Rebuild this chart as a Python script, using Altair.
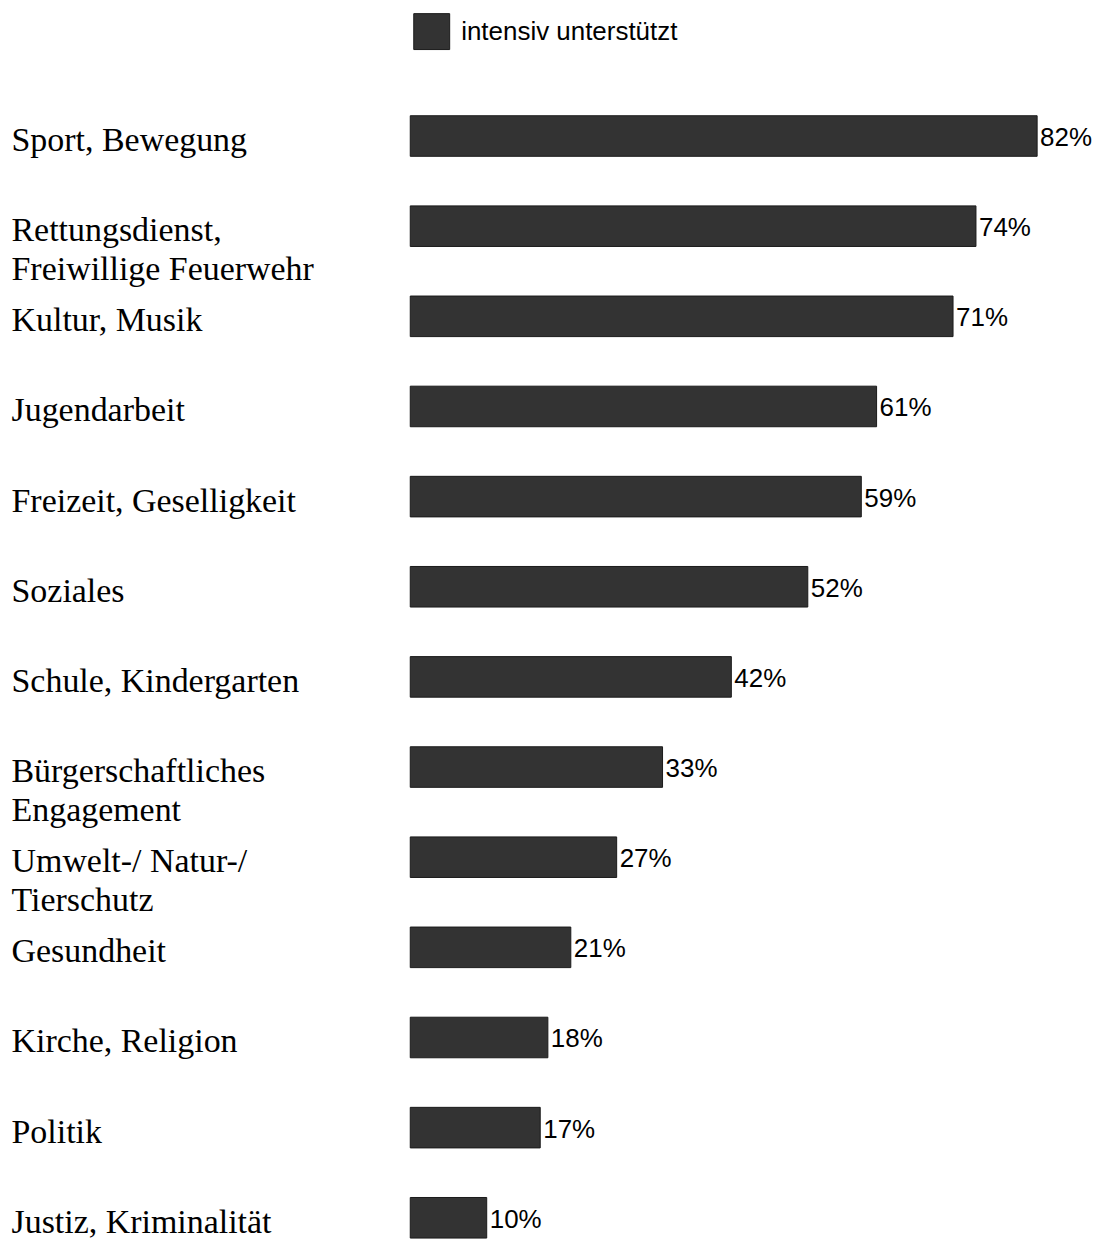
import altair as alt
import pandas as pd

categories = [
    "Sport, Bewegung",
    "Rettungsdienst,\nFreiwillige Feuerwehr",
    "Kultur, Musik",
    "Jugendarbeit",
    "Freizeit, Geselligkeit",
    "Soziales",
    "Schule, Kindergarten",
    "Bürgerschaftliches\nEngagement",
    "Umwelt-/ Natur-/\nTierschutz",
    "Gesundheit",
    "Kirche, Religion",
    "Politik",
    "Justiz, Kriminalität",
]
values = [82, 74, 71, 61, 59, 52, 42, 33, 27, 21, 18, 17, 10]
series_name = "intensiv unterstützt"

df = pd.DataFrame({"Kategorie": categories, "Wert": values, "Serie": series_name})

y_enc = alt.Y(
    "Kategorie:N",
    sort=categories,
    scale=alt.Scale(paddingInner=0.55, paddingOuter=0.02),
    axis=alt.Axis(
        title=None,
        domain=False,
        ticks=False,
        labelAlign="left",
        labelBaseline="middle",
        labelPadding=400,
        labelOffset=5,
        labelFont="Liberation Serif",
        labelFontSize=34,
        labelColor="black",
        labelLineHeight=39,
        labelLimit=0,
        labelExpr="split(datum.label, '\\n')",
    ),
)

x_enc = alt.X(
    "Wert:Q",
    scale=alt.Scale(domain=[0, 85], nice=False),
    axis=None,
)

bars = alt.Chart(df).mark_bar(stroke="#1a1a1a", strokeWidth=1).encode(
    x=x_enc,
    y=y_enc,
    color=alt.Color(
        "Serie:N",
        scale=alt.Scale(range=["#333333"]),
        legend=alt.Legend(
            title=None,
            orient="none",
            legendX=3,
            legendY=-101,
            symbolType="square",
            symbolSize=1296,
            symbolFillColor="#333333",
            symbolStrokeColor="#1a1a1a",
            symbolStrokeWidth=1,
            symbolOpacity=1,
            labelFont="Liberation Sans",
            labelFontSize=26,
            labelColor="black",
            labelOffset=11,
            labelLimit=0,
            padding=0,
        ),
    ),
)

labels = alt.Chart(df).transform_calculate(
    txt="datum.Wert + '%'"
).mark_text(
    align="left", baseline="middle", dx=3, dy=2,
    font="Liberation Sans", fontSize=26, color="black",
).encode(
    x=x_enc,
    y=alt.Y("Kategorie:N", sort=categories),
    text="txt:N",
)

chart = (
    alt.layer(bars, labels)
    .properties(
        width=651,
        height=1128,
        background="white",
        padding={"left": 3, "top": 4, "right": 0, "bottom": 0},
    )
    .configure_view(stroke=None, strokeWidth=0)
)

chart.save("out.html", embed_options={"renderer": "svg", "actions": False})
